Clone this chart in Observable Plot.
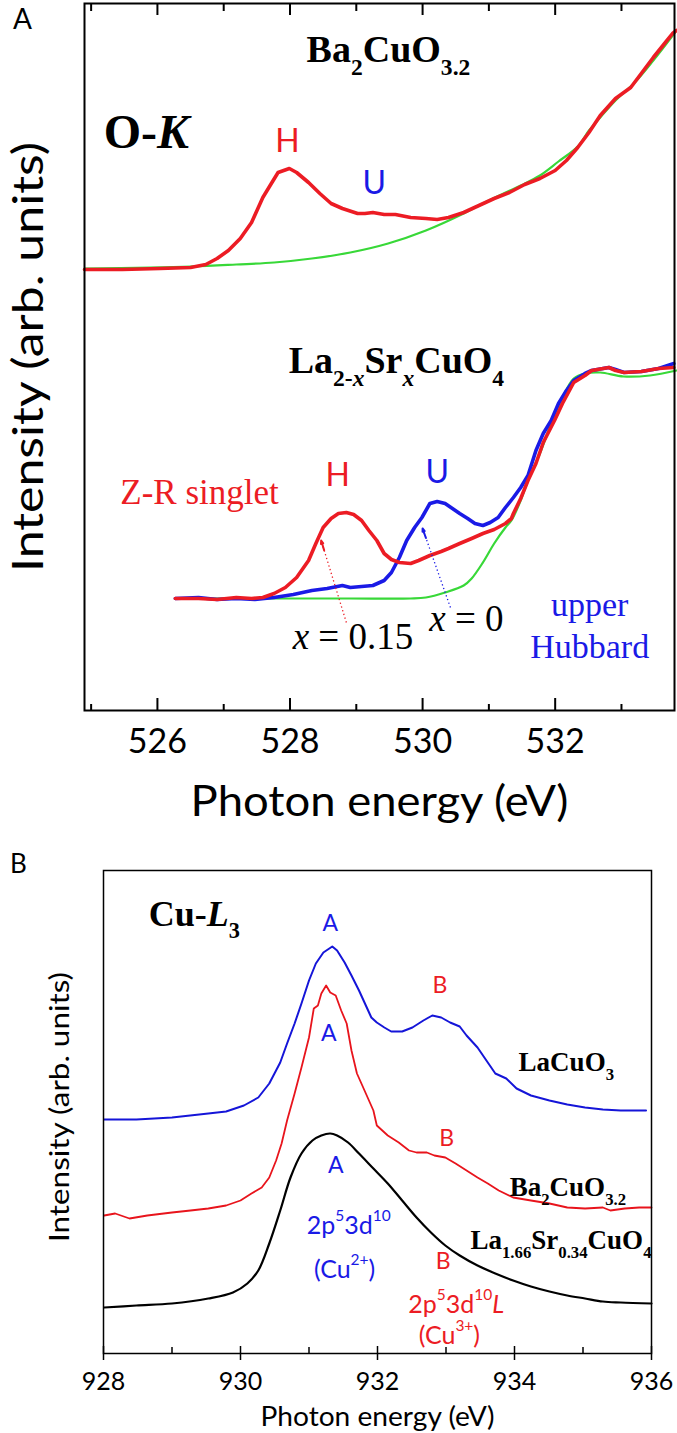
<!DOCTYPE html>
<html><head><meta charset="utf-8">
<script src="https://cdn.jsdelivr.net/npm/d3@7"></script>
<script src="https://cdn.jsdelivr.net/npm/@observablehq/plot@0.6"></script>
<style>
html,body{margin:0;padding:0;background:#fff;}
#wrap{position:relative;width:677px;height:1433px;overflow:hidden;background:#fff;}
#wrap svg{display:block;}
</style></head><body><div id="wrap"></div>
<script>
// ---------- Panel A: O-K edge data ----------
const baOK_E = [524.90,525.47,526.04,526.50,526.73,526.90,527.07,527.25,527.42,527.59,527.70,527.82,527.99,528.10,528.28,528.45,528.62,528.79,529.02,529.13,529.25,529.42,529.59,529.82,530.05,530.22,530.39,530.62,530.85,531.08,531.31,531.54,531.77,532.00,532.17,532.34,532.51,532.68,532.91,533.14,533.31,533.48,533.65,533.77,533.83];
const baOK_I = [441,441,442,443,446,452,460,472,488,513,525,538,542,538,528,517,507,502,497,497,498,496,496,493,492,491,493,498,505,512,518,526,532,540,550,563,578,595,612,623,638,653,667,677,680];
const baBg_E = [524.90,526.50,527.19,527.76,528.33,528.91,529.48,530.05,530.62,530.91,531.19,531.48,531.77,532.05,532.34,532.51,532.68,532.91,533.20,533.48,533.83];
const baBg_I = [442,444,446,448,452,458,467,480,497,507,516,525,535,549,564,580,593,610,628,650,680];

const lsco15_E = [526.27,526.62,526.90,527.19,527.42,527.59,527.76,527.93,528.10,528.28,528.39,528.50,528.62,528.73,528.85,528.96,529.08,529.19,529.31,529.42,529.53,529.65,529.82,529.94,530.11,530.28,530.39,530.56,530.74,530.91,531.08,531.25,531.34,531.37,531.48,531.59,531.71,531.82,531.99,532.11,532.28,532.45,532.55,532.81,532.91,533.04,533.30,533.56,533.79];
const lsco15_I = [112,112,111,113,112,113,117,123,133,150,167,183,192,197,198,196,190,180,170,157,151,148,147,150,155,159,162,167,172,177,181,187,192,197,212,230,247,268,290,307,328,335,340,343,340,338,339,342,343];
const lsco0_E = [526.27,526.62,526.90,527.19,527.47,527.76,528.05,528.33,528.56,528.79,528.91,529.08,529.25,529.42,529.53,529.65,529.76,529.88,529.99,530.11,530.22,530.34,530.45,530.56,530.68,530.79,530.91,531.02,531.14,531.25,531.37,531.48,531.59,531.71,531.82,531.94,532.05,532.17,532.28,532.45,532.55,532.81,532.91,533.04,533.30,533.56,533.79];
const lsco0_I = [112,113,111,112,111,113,116,120,122,125,123,124,125,130,138,153,170,183,193,207,209,207,202,197,192,187,185,188,193,203,213,223,235,260,277,290,307,320,330,337,340,343,341,338,339,342,347];
const lscoBg_E = [526.27,527.76,528.91,529.82,530.05,530.34,530.62,530.74,530.91,531.08,531.25,531.34,531.48,531.59,531.77,531.94,532.11,532.28,532.45,532.68,533.03,533.43,533.83];
const lscoBg_I = [112,112,112,112,113,118,125,132,148,167,183,190,210,230,257,287,313,332,337,338,334,335,340];

const ticksA_major = [526,528,530,532];
const ticksA_minor = [525,527,529,531,533];

// ---------- Panel B: Cu-L3 edge data ----------
const lacuE = [928.01,928.48,929.00,929.53,929.79,930.05,930.26,930.42,930.58,930.68,930.79,930.89,931.00,931.10,931.21,931.34,931.41,931.52,931.62,931.73,931.83,931.91,931.99,932.10,932.20,932.36,932.51,932.67,932.80,932.93,933.06,933.20,933.30,933.46,933.61,933.72,933.88,934.03,934.24,934.51,934.77,935.03,935.29,935.55,935.92];
const lacuI = [234,234,236,240,242,248,256,270,291,310,330,350,373,390,401,407,403,391,378,363,348,336,331,326,322,322,326,333,338,336,331,327,318,306,291,280,275,265,258,253,249,246,244,243,243];
const bacuE = [928.01,928.17,928.38,928.64,929.00,929.27,929.53,929.79,930.00,930.16,930.31,930.42,930.52,930.60,930.68,930.79,930.89,931.00,931.07,931.13,931.18,931.25,931.31,931.39,931.47,931.55,931.62,931.70,931.83,931.94,931.99,932.15,932.31,932.46,932.57,932.72,932.83,932.99,933.14,933.30,933.46,933.61,933.77,933.98,934.24,934.51,934.77,935.03,935.29,935.40,935.61,935.82,936.00];
const bacuI = [138,140,135,138,141,143,145,148,153,160,166,176,193,210,233,260,286,316,345,348,360,368,361,358,343,330,303,280,260,243,228,218,211,203,201,201,198,196,190,183,176,170,163,156,153,150,146,145,146,143,145,146,146];
const lsco34E = [928.01,928.48,929.00,929.53,929.89,930.10,930.26,930.42,930.58,930.73,930.89,931.05,931.18,931.31,931.41,931.57,931.73,931.94,932.15,932.36,932.57,932.78,932.99,933.20,933.46,933.72,933.98,934.24,934.51,934.77,935.03,935.29,935.55,936.00];
const lsco34I = [46,48,50,55,61,70,83,110,143,176,200,213,218,220,218,211,200,185,170,153,136,121,108,98,88,80,73,67,62,58,55,52,51,50];

const ticksB_major = [928,930,932,934,936];
const ticksB_minor = [929,931,933,935];

// ---------- annotations ----------
const annA_edge = [{x:525.19, y:563, t:"O-*K*"}];
const annA_formula = [{x:528.25, y:649, t:"Ba_{2}CuO_{3.2}"},{x:527.98, y:338, t:"La_{2-*x*}Sr_{*x*}CuO_{4}"}];
const annA_zr = [{x:525.44, y:207, t:"Z-R singlet"}];
const annA_x = [{x:528.04, y:62, t:"*x* = 0.15"},{x:530.10, y:80, t:"*x* = 0"}];
const annA_uh = [{x:532.52, y:95, t:"upper"},{x:532.52, y:53, t:"Hubbard"}];
const annA_H = [{x:527.96, y:559, t:"H"},{x:528.72, y:225, t:"H"}];
const annA_U = [{x:529.27, y:517, t:"U"},{x:530.22, y:228, t:"U"}];
const arrowsA = [{x1:528.85, y1:88, x2:528.47, y2:170, c:"#ec1c24"},{x1:530.42, y1:103, x2:530.00, y2:182, c:"#1a1ae6"}];

const annB_edge = [{x:928.66, y:428, t:"Cu-*L*_{3}"}];
const annB_formula = [{x:934.06, y:283, t:"LaCuO_{3}"},{x:933.93, y:158, t:"Ba_{2}CuO_{3.2}"}];
const annB_formulaEnd = [{x:936.0, y:105, t:"La_{1.66}Sr_{0.34}CuO_{4}"}];
const annB_A = [{x:931.31, y:423, t:"A"},{x:931.29, y:313, t:"A"},{x:931.39, y:181, t:"A"}];
const annB_B = [{x:932.91, y:361, t:"B"},{x:933.01, y:208, t:"B"},{x:932.96, y:85, t:"B"}];
const annB_cu2 = [{x:931.58, y:120, t:"2p^{5}3d^{10}"},{x:931.52, y:76, t:"(Cu^{2+})"}];
const annB_cu3 = [{x:933.15, y:41, t:"2p^{5}3d^{10}*L*"},{x:933.05, y:10, t:"(Cu^{3+})"}];

// ---------- styles ----------
const RED = "#ec1c24", BLUE = "#1a1ae6", GREEN = "#38d838";
const SANS = "Lato", SERIF = "Liberation Serif";

const rows = (E, I) => E.map((e, i) => ({e, v: I[i]}));
const txt = (data, o) => Plot.text(data, {x:"x", y:"y", text:"t", lineAnchor:"bottom", textAnchor:"start", fill:"black", ...o});

const plotA = Plot.plot({
  width: 677, height: 830,
  marginTop: 3, marginBottom: 120, marginLeft: 84, marginRight: 3,
  style: {fontFamily: SANS, background: "#fff", overflow: "visible"},
  x: {domain: [524.9, 533.8], axis: null},
  y: {domain: [0, 707], axis: null},
  color: {type: "identity"},
  marks: [
    Plot.line(rows(baBg_E, baBg_I), {x:"e", y:"v", stroke:GREEN, strokeWidth:2.2, curve:"catmull-rom"}),
    Plot.line(rows(baOK_E, baOK_I), {x:"e", y:"v", stroke:RED, strokeWidth:3.6}),
    Plot.line(rows(lscoBg_E, lscoBg_I), {x:"e", y:"v", stroke:GREEN, strokeWidth:2.2, curve:"catmull-rom"}),
    Plot.line(rows(lsco0_E, lsco0_I), {x:"e", y:"v", stroke:BLUE, strokeWidth:3.6}),
    Plot.line(rows(lsco15_E, lsco15_I), {x:"e", y:"v", stroke:RED, strokeWidth:3.6}),
    Plot.link(arrowsA, {x1:"x1", y1:"y1", x2:"x2", y2:"y2", stroke:"c", strokeWidth:1.3, strokeDasharray:"1.3,2.6"}),
    Plot.arrow(arrowsA, {x1: d => d.x2 - (d.x2 - d.x1) * 0.12, y1: d => d.y2 - (d.y2 - d.y1) * 0.12, x2:"x2", y2:"y2", stroke:"c", strokeWidth:2, headLength:9, headAngle:40}),
    Plot.frame({stroke:"black", strokeWidth:2}),
    Plot.ruleX(ticksA_major, {y1:0, y2:12, stroke:"black", strokeWidth:2}),
    Plot.ruleX(ticksA_minor, {y1:0, y2:6, stroke:"black", strokeWidth:2}),
    Plot.ruleX(ticksA_major, {y1:695, y2:707, stroke:"black", strokeWidth:2}),
    Plot.ruleX(ticksA_minor, {y1:699, y2:707, stroke:"black", strokeWidth:2}),
    Plot.axisX({ticks: ticksA_major, tickSize: 0, tickPadding: 18, fontSize: 34, label: null, fontFamily: SANS}),
    Plot.text(["Photon energy (eV)"], {frameAnchor:"bottom", dy:105, lineAnchor:"bottom", textAnchor:"middle", fontSize:43, fontFamily:SANS}),
    Plot.text(["Intensity (arb. units)"], {frameAnchor:"left", dx:-42, rotate:-90, lineAnchor:"bottom", textAnchor:"middle", fontSize:42, fontFamily:SANS}),
    Plot.text(["A"], {frameAnchor:"top-left", dx:-62, dy:25, lineAnchor:"bottom", textAnchor:"middle", fontSize:28, fontFamily:SANS}),
    txt(annA_edge, {fontFamily:SERIF, fontWeight:"bold", fontSize:48}),
    txt(annA_formula, {fontFamily:SERIF, fontWeight:"bold", fontSize:38}),
    txt(annA_zr, {fontFamily:SERIF, fontSize:35, fill:RED}),
    txt(annA_x, {fontFamily:SERIF, fontSize:37}),
    txt(annA_uh, {fontFamily:SERIF, fontSize:34, fill:BLUE, textAnchor:"middle"}),
    txt(annA_H, {fontFamily:SANS, fontSize:32, fill:RED, textAnchor:"middle"}),
    txt(annA_U, {fontFamily:SANS, fontSize:32, fill:BLUE, textAnchor:"middle"})
  ]
});

const plotB = Plot.plot({
  width: 677, height: 603,
  marginTop: 40, marginBottom: 80, marginLeft: 103, marginRight: 26,
  style: {fontFamily: SANS, background: "#fff", overflow: "visible"},
  x: {domain: [928, 936], axis: null},
  y: {domain: [0, 483], axis: null},
  marks: [
    Plot.line(rows(lsco34E, lsco34I), {x:"e", y:"v", stroke:"black", strokeWidth:2.2, curve:"catmull-rom"}),
    Plot.line(rows(bacuE, bacuI), {x:"e", y:"v", stroke:"#e8141c", strokeWidth:1.8}),
    Plot.line(rows(lacuE, lacuI), {x:"e", y:"v", stroke:"#1515d8", strokeWidth:2}),
    Plot.frame({stroke:"black", strokeWidth:1.5}),
    Plot.ruleX(ticksB_major, {y1:-7, y2:7, stroke:"black", strokeWidth:1.5}),
    Plot.ruleX(ticksB_minor, {y1:0, y2:6, stroke:"black", strokeWidth:1.5}),
    Plot.axisX({ticks: ticksB_major, tickSize: 0, tickPadding: 19, fontSize: 25, label: null, fontFamily: SANS}),
    Plot.text(["Photon energy (eV)"], {frameAnchor:"bottom", dy:72, lineAnchor:"bottom", textAnchor:"middle", fontSize:26, fontFamily:SANS}),
    Plot.text(["Intensity (arb. units)"], {frameAnchor:"left", dx:-35, dy:-5, rotate:-90, lineAnchor:"bottom", textAnchor:"middle", fontSize:27, fontFamily:SANS}),
    Plot.text(["B"], {frameAnchor:"top-left", dx:-85, dy:2, lineAnchor:"bottom", textAnchor:"middle", fontSize:26, fontFamily:SANS}),
    txt(annB_edge, {fontFamily:SERIF, fontWeight:"bold", fontSize:36}),
    txt(annB_formula, {fontFamily:SERIF, fontWeight:"bold", fontSize:27}),
    txt(annB_formulaEnd, {fontFamily:SERIF, fontWeight:"bold", fontSize:27, textAnchor:"end"}),
    txt(annB_A, {fontFamily:SANS, fontSize:23, fill:BLUE, textAnchor:"middle"}),
    txt(annB_B, {fontFamily:SANS, fontSize:23, fill:RED, textAnchor:"middle"}),
    txt(annB_cu2, {fontFamily:SANS, fontSize:25, fill:BLUE, textAnchor:"middle"}),
    txt(annB_cu3, {fontFamily:SANS, fontSize:25, fill:RED, textAnchor:"middle"})
  ]
});

const wrap = document.getElementById("wrap");
wrap.appendChild(plotA);
wrap.appendChild(plotB);

// rich text: _{sub}, ^{sup}, *italic*
function parseRich(s) {
  const out = [], stack = []; let it = false, buf = "";
  const lvl = () => stack.length ? stack[stack.length - 1] : 0;
  const flush = () => { if (buf) { out.push({s: buf, lvl: lvl(), it}); buf = ""; } };
  for (let i = 0; i < s.length; i++) {
    const c = s[i];
    if ((c === "_" || c === "^") && s[i + 1] === "{") { flush(); stack.push(c === "_" ? 1 : -1); i++; continue; }
    if (c === "}" && stack.length) { flush(); stack.pop(); continue; }
    if (c === "*") { flush(); it = !it; continue; }
    buf += c;
  }
  flush();
  return out;
}
function richify(svg) {
  svg.querySelectorAll("text").forEach(t => {
    const s = t.textContent;
    if (!/[_^*]/.test(s) || t.children.length) return;
    const fs = parseFloat(getComputedStyle(t).fontSize);
    const segs = parseRich(s);
    t.textContent = "";
    let cur = 0;
    for (const g of segs) {
      const ts = document.createElementNS("http://www.w3.org/2000/svg", "tspan");
      const target = g.lvl === 1 ? 0.36 * fs : g.lvl === -1 ? -0.5 * fs : 0;
      if (target !== cur) ts.setAttribute("dy", (target - cur).toFixed(2));
      cur = target;
      if (g.lvl) ts.setAttribute("font-size", (0.62 * fs).toFixed(2));
      if (g.it) ts.setAttribute("font-style", "italic");
      ts.textContent = g.s;
      t.appendChild(ts);
    }
  });
}
function fitLength(svg, str, len) {
  svg.querySelectorAll("text").forEach(t => {
    if (t.textContent === str) { t.setAttribute("textLength", len); t.setAttribute("lengthAdjust", "spacingAndGlyphs"); }
  });
}
richify(plotA); richify(plotB);
fitLength(plotA, "Photon energy (eV)", 378);
fitLength(plotA, "Intensity (arb. units)", 430);
fitLength(plotB, "Photon energy (eV)", 234);
fitLength(plotB, "Intensity (arb. units)", 270);
</script></body></html>
